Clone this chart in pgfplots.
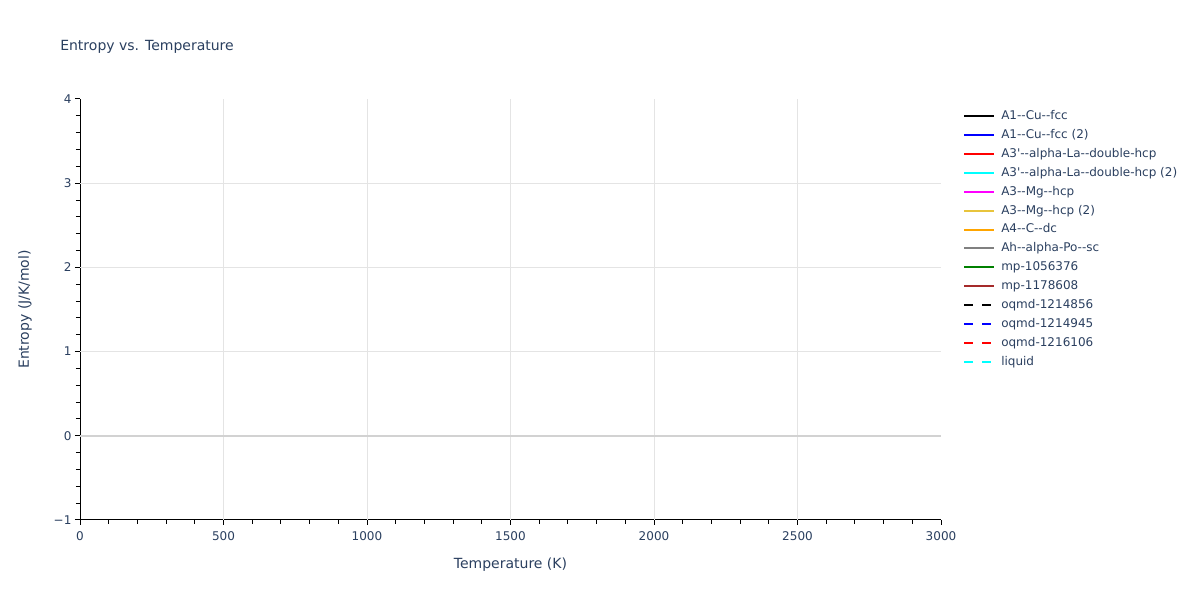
\documentclass[border=0pt]{standalone}
\usepackage{fontspec}
\setmainfont{DejaVu Sans}[Ligatures=TeXOff]
\usepackage{pgfplots}
\pgfplotsset{compat=1.18}

\definecolor{txt}{RGB}{42,63,95}
\definecolor{gridc}{RGB}{228,228,228}
\definecolor{zeroc}{RGB}{210,210,210}
\definecolor{gold}{RGB}{232,196,60}
\definecolor{brownc}{RGB}{165,42,42}
\definecolor{cyanc}{RGB}{0,255,255}
\definecolor{magc}{RGB}{255,0,255}
\definecolor{orangec}{RGB}{255,165,0}
\definecolor{greenc}{RGB}{0,128,0}
\definecolor{grayc}{RGB}{128,128,128}
\definecolor{bluec}{RGB}{0,0,255}
\definecolor{redc}{RGB}{255,0,0}

\begin{document}
\begin{tikzpicture}
  \path[use as bounding box] (0,0) rectangle (900bp,450bp);
  \begin{axis}[
    at={(60bp,60bp)}, anchor=south west,
    scale only axis,
    width=645.75bp, height=315.75bp,
    xmin=0, xmax=3000, ymin=-1, ymax=4,
    axis lines=left,
    axis line style={black, line width=0.75bp, -},
    xtick={0,500,...,3000},
    ytick={-1,0,1,2,3,4},
    yticklabels={−1,0,1,2,3,4},
    minor x tick num=4,
    minor y tick num=4,
    tick align=outside,
    major tick length=3.75bp,
    minor tick length=3bp,
    every tick/.style={black, line width=0.75bp},
    extra x ticks={500,1000,1500,2000,2500},
    extra x tick labels={},
    extra x tick style={grid=major, major tick length=0pt},
    extra y ticks={1,2,3},
    extra y tick labels={},
    extra y tick style={grid=major, major tick length=0pt},
    major grid style={gridc, line width=0.75bp},
    /pgf/number format/assume math mode=true,
    /pgf/number format/1000 sep={},
    tick label style={font=\fontsize{9bp}{10bp}\selectfont, text=txt, inner sep=0pt},
    xticklabel style={anchor=north, yshift=-5bp},
    yticklabel style={anchor=east, xshift=-2.5bp},
    xlabel={Temperature (K)},
    ylabel={Entropy (J/K/mol)},
    title={Entropy vs. Temperature},
    every axis x label/.style={at={(axis description cs:0.5,0)}, yshift=-33.75bp,
      anchor=center, font=\fontsize{10.5bp}{12bp}\selectfont, text=txt, inner sep=0pt},
    every axis y label/.style={at={(axis description cs:0,0.5)}, xshift=-41.25bp,
      rotate=90, anchor=center, font=\fontsize{10.5bp}{12bp}\selectfont, text=txt, inner sep=0pt},
    every axis title/.style={at={(axis description cs:0,1)}, xshift=-15bp, yshift=39bp,
      anchor=west, font=\fontsize{10.5bp}{12bp}\selectfont, text=txt, inner sep=0pt},
    legend cell align=left,
    legend style={
      at={(1,1)}, anchor=north west, xshift=13.5bp, yshift=-3.4bp,
      draw=none, fill=none,
      font=\fontsize{9bp}{10bp}\selectfont, text=txt,
      row sep=0pt,
      /tikz/every odd column/.append style={column sep=4.5bp},
      nodes={inner sep=0pt, text height=9.7bp, text depth=4.5bp},
    },
    legend image code/.code={\draw[#1, line width=1.5bp] (0bp,0bp) -- (22.5bp,0bp);},
  ]
    \draw[zeroc, line width=1.5bp] (axis cs:0,0) -- (axis cs:3000,0);
    \addlegendimage{black}
    \addlegendentry{A1--Cu--fcc}
    \addlegendimage{bluec}
    \addlegendentry{A1--Cu--fcc (2)}
    \addlegendimage{redc}
    \addlegendentry{A3'--alpha-La--double-hcp}
    \addlegendimage{cyanc}
    \addlegendentry{A3'--alpha-La--double-hcp (2)}
    \addlegendimage{magc}
    \addlegendentry{A3--Mg--hcp}
    \addlegendimage{gold}
    \addlegendentry{A3--Mg--hcp (2)}
    \addlegendimage{orangec}
    \addlegendentry{A4--C--dc}
    \addlegendimage{grayc}
    \addlegendentry{Ah--alpha-Po--sc}
    \addlegendimage{greenc}
    \addlegendentry{mp-1056376}
    \addlegendimage{brownc}
    \addlegendentry{mp-1178608}
    \addlegendimage{black, dash pattern=on 6.75bp off 6.75bp}
    \addlegendentry{oqmd-1214856}
    \addlegendimage{bluec, dash pattern=on 6.75bp off 6.75bp}
    \addlegendentry{oqmd-1214945}
    \addlegendimage{redc, dash pattern=on 6.75bp off 6.75bp}
    \addlegendentry{oqmd-1216106}
    \addlegendimage{cyanc, dash pattern=on 6.75bp off 6.75bp}
    \addlegendentry{liquid}
  \end{axis}
\end{tikzpicture}
\end{document}
